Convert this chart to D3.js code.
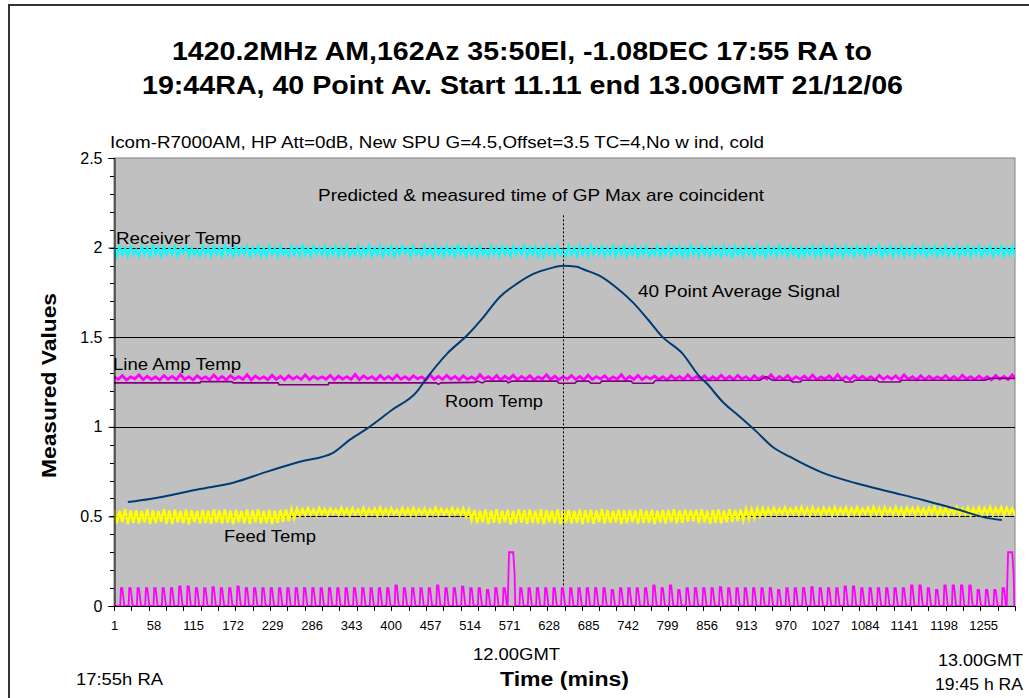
<!DOCTYPE html>
<html><head><meta charset="utf-8">
<script src="https://cdn.jsdelivr.net/npm/d3@7"></script>
<style>body{margin:0;background:#fff;} svg{display:block;} text{font-family:"Liberation Sans",Arial,sans-serif;fill:#000;}</style>
</head><body><svg id="c" width="1029" height="698"></svg>
<script>
// ---------------- DATA ----------------
const xTickLabels = [1,58,115,172,229,286,343,400,457,514,571,628,685,742,799,856,913,970,1027,1084,1141,1198,1255];
const yTickLabels = [0,0.5,1,1.5,2,2.5];
const sampleCount = 1301;
const sampleStep = 4;      // receiver / feed samples every 4 points
const lineAmpStep = 6;     // line amp samples every 6 points

// 40 point average signal
const signalCats = [21,53,125,173,222,269,317,342,366,402,438,450,482,511,531,558,583,606,630,649,669,678,702,727,750,772,792,821,846,856,879,904,928,951,976,1023,1072,1120,1168,1217,1264,1282];
const signalValues = [0.58,0.597,0.653,0.688,0.75,0.805,0.855,0.93,0.99,1.094,1.196,1.26,1.41,1.512,1.598,1.726,1.80,1.853,1.884,1.899,1.893,1.879,1.842,1.773,1.693,1.596,1.503,1.41,1.28,1.243,1.14,1.056,0.973,0.889,0.833,0.744,0.685,0.638,0.592,0.54,0.489,0.48];

// Receiver Temp (cyan)
const receiverTemp = [
2.00,1.95,2.01,1.96,2.00,1.95,2.01,1.96,1.99,1.95,
2.01,1.96,2.00,1.95,2.02,1.96,2.00,1.95,2.01,1.96,
2.00,1.96,2.01,1.95,2.00,1.97,2.01,1.95,2.00,1.96,
1.99,1.95,2.01,1.96,2.00,1.95,2.01,1.96,2.00,1.95,
2.02,1.96,2.00,1.95,2.01,1.96,2.00,1.96,2.01,1.95,
2.00,1.96,2.01,1.95,2.00,1.95,2.01,1.96,2.00,1.95,
2.01,1.96,1.99,1.95,2.01,1.96,2.00,1.95,2.02,1.96,
2.00,1.95,2.01,1.96,2.00,1.96,2.01,1.95,2.00,1.96,
2.01,1.95,2.00,1.96,2.01,1.95,1.99,1.96,2.01,1.95,
2.00,1.96,2.02,1.95,2.00,1.96,2.01,1.95,2.00,1.96,
2.01,1.95,2.00,1.96,2.01,1.97,2.00,1.95,2.01,1.96,
1.99,1.95,2.01,1.96,2.00,1.95,2.01,1.96,2.00,1.95,
2.01,1.96,2.00,1.95,2.02,1.96,2.00,1.95,2.01,1.96,
2.00,1.95,2.01,1.96,1.99,1.95,2.01,1.96,2.00,1.95,
2.01,1.96,2.00,1.95,2.01,1.96,2.00,1.96,2.02,1.95,
2.00,1.96,2.01,1.95,2.00,1.95,2.01,1.96,2.00,1.95,
2.01,1.96,1.99,1.95,2.01,1.96,2.00,1.95,2.01,1.96,
2.00,1.95,2.02,1.96,2.00,1.96,2.01,1.95,2.00,1.96,
2.01,1.95,2.00,1.96,2.01,1.95,2.00,1.96,2.01,1.95,
2.00,1.96,2.01,1.95,1.99,1.96,2.01,1.95,2.00,1.96,
2.01,1.95,2.00,1.96,2.01,1.95,2.00,1.95,2.02,1.96,
2.00,1.95,2.01,1.96,2.00,1.95,2.01,1.96,2.00,1.95,
2.01,1.96,2.00,1.94,2.01,1.96,2.00,1.95,2.01,1.96,
2.00,1.95,2.01,1.96,2.00,1.94,2.01,1.96,2.00,1.95,
2.02,1.96,2.00,1.95,2.01,1.96,2.00,1.94,2.01,1.95,
2.00,1.96,2.01,1.95,2.00,1.95,2.01,1.96,2.00,1.94,
2.01,1.96,2.00,1.95,2.01,1.96,2.00,1.95,2.01,1.96,
2.00,1.95,2.01,1.96,2.00,1.96,2.02,1.95,2.00,1.96,
2.01,1.95,2.00,1.96,2.01,1.95,2.00,1.96,2.01,1.95,
2.00,1.96,2.01,1.95,2.00,1.96,2.01,1.95,2.00,1.96,
2.01,1.95,2.00,1.96,2.01,1.95,2.00,1.96,2.01,1.95,
2.00,1.96,2.01,1.95,2.00,1.96,2.01,1.95,2.00,1.96,
2.01,1.95,2.00,1.96,2.01,1.95,2.00,1.96,2.01,1.95];

// Line Amp Temp (magenta)
const lineAmpTemp = [
1.28,1.265,1.285,1.262,1.279,1.268,1.29,1.263,1.282,1.265,
1.278,1.262,1.286,1.266,1.281,1.263,1.292,1.265,1.28,1.262,
1.284,1.267,1.279,1.263,1.289,1.265,1.281,1.262,1.286,1.266,
1.28,1.264,1.291,1.262,1.283,1.267,1.279,1.263,1.288,1.265,
1.282,1.262,1.285,1.266,1.28,1.264,1.29,1.263,1.281,1.267,
1.279,1.265,1.287,1.262,1.283,1.266,1.28,1.264,1.292,1.263,
1.284,1.267,1.28,1.262,1.286,1.265,1.281,1.263,1.289,1.266,
1.28,1.263,1.285,1.267,1.279,1.262,1.29,1.265,1.282,1.264,
1.287,1.266,1.281,1.262,1.284,1.265,1.279,1.263,1.291,1.267,
1.28,1.264,1.286,1.262,1.282,1.266,1.288,1.263,1.281,1.265,
1.285,1.262,1.279,1.267,1.29,1.264,1.283,1.263,1.28,1.266,
1.286,1.265,1.281,1.262,1.289,1.264,1.28,1.267,1.284,1.263,
1.279,1.266,1.291,1.262,1.282,1.265,1.287,1.263,1.28,1.267,
1.283,1.264,1.28,1.262,1.286,1.266,1.281,1.263,1.29,1.265,
1.28,1.267,1.284,1.262,1.279,1.264,1.288,1.265,1.282,1.263,
1.287,1.266,1.28,1.262,1.285,1.264,1.281,1.267,1.29,1.263,
1.281,1.265,1.286,1.262,1.28,1.266,1.283,1.264,1.289,1.263,
1.279,1.267,1.284,1.262,1.291,1.265,1.28,1.263,1.286,1.266,
1.282,1.264,1.28,1.262,1.287,1.265,1.281,1.267,1.284,1.263,
1.29,1.266,1.28,1.262,1.285,1.264,1.282,1.265,1.279,1.267,
1.286,1.263,1.281,1.262,1.288,1.266,1.28,1.264,1.283,1.265,
1.28,1.262,1.287,1.266,1.281,1.263,1.29,1.265,1.282,1.264];

// Room Temp (dark purple) – step line
const roomCats = [1,125,126,171,173,238,239,310,311,466,469,473,522,526,532,538,567,570,575,640,643,666,669,686,689,702,705,747,750,779,782,933,942,951,977,980,991,994,1053,1056,1067,1070,1102,1105,1135,1138,1258,1265,1301];
const roomValues = [1.245,1.245,1.252,1.252,1.245,1.245,1.235,1.235,1.245,1.245,1.237,1.245,1.248,1.255,1.245,1.255,1.255,1.245,1.255,1.255,1.243,1.243,1.255,1.255,1.243,1.243,1.255,1.255,1.243,1.243,1.258,1.26,1.28,1.26,1.26,1.25,1.25,1.26,1.26,1.25,1.25,1.26,1.26,1.25,1.25,1.26,1.26,1.27,1.27];

// Feed Temp (yellow)
const feedTemp = [
0.535,0.462,0.53,0.468,0.54,0.458,0.532,0.465,0.536,0.46,
0.53,0.466,0.538,0.457,0.534,0.463,0.53,0.469,0.54,0.461,
0.533,0.458,0.537,0.466,0.531,0.462,0.539,0.456,0.534,0.467,
0.53,0.46,0.536,0.464,0.532,0.459,0.54,0.466,0.533,0.461,
0.538,0.465,0.531,0.458,0.535,0.468,0.53,0.462,0.537,0.459,
0.534,0.466,0.539,0.46,0.532,0.463,0.536,0.457,0.531,0.465,
0.535,0.47,0.538,0.475,0.54,0.49,0.542,0.505,0.54,0.508,
0.545,0.51,0.538,0.507,0.546,0.512,0.54,0.506,0.543,0.514,
0.537,0.508,0.547,0.511,0.541,0.506,0.544,0.513,0.538,0.509,
0.546,0.507,0.54,0.512,0.543,0.505,0.548,0.51,0.539,0.508,
0.544,0.513,0.537,0.506,0.545,0.511,0.541,0.507,0.546,0.509,
0.54,0.512,0.543,0.505,0.538,0.51,0.547,0.508,0.542,0.513,
0.539,0.506,0.545,0.511,0.54,0.508,0.544,0.498,0.538,0.48,
0.536,0.462,0.531,0.467,0.538,0.458,0.533,0.465,0.54,0.46,
0.532,0.468,0.536,0.457,0.53,0.463,0.539,0.466,0.534,0.459,
0.537,0.464,0.531,0.461,0.54,0.456,0.535,0.467,0.532,0.462,
0.538,0.458,0.533,0.466,0.536,0.46,0.531,0.464,0.539,0.457,
0.534,0.465,0.537,0.459,0.532,0.468,0.54,0.461,0.535,0.463,
0.531,0.466,0.538,0.458,0.534,0.462,0.536,0.467,0.532,0.46,
0.539,0.463,0.533,0.465,0.537,0.457,0.531,0.466,0.535,0.461,
0.536,0.468,0.54,0.462,0.533,0.465,0.538,0.47,0.534,0.474,
0.537,0.462,0.539,0.466,0.532,0.459,0.536,0.464,0.538,0.461,
0.533,0.467,0.54,0.47,0.535,0.474,0.538,0.48,0.541,0.486,
0.54,0.492,0.543,0.5,0.545,0.505,0.542,0.508,0.547,0.51,
0.541,0.512,0.548,0.507,0.543,0.513,0.546,0.509,0.55,0.511,
0.544,0.506,0.549,0.512,0.542,0.508,0.547,0.514,0.545,0.507,
0.55,0.51,0.543,0.513,0.548,0.506,0.544,0.511,0.549,0.509,
0.542,0.514,0.547,0.508,0.551,0.512,0.545,0.507,0.548,0.513,
0.543,0.509,0.55,0.511,0.544,0.506,0.549,0.514,0.546,0.508,
0.548,0.512,0.542,0.509,0.547,0.513,0.551,0.507,0.544,0.511,
0.549,0.508,0.545,0.514,0.55,0.51,0.543,0.512,0.548,0.506,
0.544,0.511,0.548,0.509,0.546,0.513,0.552,0.508,0.545,0.512,
0.55,0.507,0.547,0.514,0.543,0.51,0.549,0.511,0.546,0.509];

// calibration pulses (magenta, bottom)
const pulseCats = [11,23,35,47,59,71,83,95,107,119,131,143,155,167,179,191,203,215,227,239,
251,263,275,287,299,311,323,335,347,359,371,383,395,407,419,431,443,455,467,479,
491,503,515,527,539,551,563,575,587,599,611,623,635,647,659,671,683,695,707,719,
731,743,755,767,779,791,803,815,827,839,851,863,875,887,899,911,923,935,947,959,
971,983,995,1007,1019,1031,1043,1055,1067,1079,1091,1103,1115,1127,1139,1151,1163,1175,1187,1199,
1211,1223,1235,1247,1259,1271,1283,1295];
const pulseHeights = [0.1,0.1,0.1,0.1,0.1,0.1,0.1,0.11,0.11,0.1,
0.1,0.105,0.1,0.1,0.11,0.1,0.1,0.1,0.1,0.1,
0.1,0.1,0.1,0.1,0.1,0.1,0.1,0.1,0.1,0.1,
0.1,0.1,0.1,0.115,0.1,0.1,0.1,0.1,0.115,0.1,
0.1,0.108,0.1,0.1,0.09,0.1,0.1,0.3,0.1,0.1,
0.1,0.1,0.1,0.1,0.1,0.1,0.1,0.1,0.1,0.09,
0.1,0.1,0.1,0.1,0.115,0.1,0.115,0.09,0.1,0.1,
0.1,0.1,0.105,0.1,0.1,0.1,0.1,0.1,0.1,0.09,
0.1,0.1,0.1,0.105,0.1,0.1,0.1,0.11,0.11,0.1,
0.1,0.1,0.1,0.1,0.1,0.115,0.115,0.1,0.09,0.115,
0.115,0.115,0.115,0.09,0.09,0.09,0.1,0.3];

const gpMaxCat = 649;

// ---------------- DRAW ----------------
const svg = d3.select("#c");
const L = 114, R = 1015, T = 158, B = 606;
const x = d3.scaleLinear().domain([1, sampleCount]).range([L, R]);
const y = d3.scaleLinear().domain([0, 2.5]).range([B, T]);

// outer chart border
svg.append("rect").attr("x",9).attr("y",5).attr("width",1060).attr("height",720)
  .attr("fill","#fff").attr("stroke","#333").attr("stroke-width",2);

// plot area
svg.append("rect").attr("x",L).attr("y",T).attr("width",R-L).attr("height",B-T)
  .attr("fill","#c0c0c0").attr("stroke","#808080").attr("stroke-width",1);

svg.append("defs").append("clipPath").attr("id","clip")
  .append("rect").attr("x",L).attr("y",T-2).attr("width",R-L).attr("height",B-T+4);

// gridlines
svg.append("g").selectAll("line").data([0.5,1,1.5,2]).join("line")
  .attr("x1",L).attr("x2",R).attr("y1",d=>Math.round(y(d))+0.5).attr("y2",d=>Math.round(y(d))+0.5)
  .attr("stroke","#000").attr("stroke-width",1);

const plot = svg.append("g").attr("clip-path","url(#clip)");
const line = d3.line().x(d=>x(d[0])).y(d=>y(d[1]));
const smooth = d3.line().x(d=>x(d[0])).y(d=>y(d[1])).curve(d3.curveMonotoneX);

const recPts = receiverTemp.map((v,i)=>[1+i*sampleStep, v]);
const ampPts = lineAmpTemp.map((v,i)=>[1+i*lineAmpStep, v]);
const roomPts = roomCats.map((c,i)=>[c, roomValues[i]]);
const feedPts = feedTemp.map((v,i)=>[1+i*sampleStep, v]);
const sigPts = signalCats.map((c,i)=>[c, signalValues[i]]);

// pulse table built from pulse arrays
const pulsePts = [[1,0]];
pulseCats.forEach((p,i)=>{
  const h = pulseHeights[i];
  if (h >= 0.2) {
    pulsePts.push([p-6,0],[p-4,h],[p+2,h],[p+4,h*0.6],[p+5,0]);
  } else {
    pulsePts.push([p-1,0],[p,h],[p+2,h],[p+5,0]);
  }
});
pulsePts.push([sampleCount,0]);

plot.append("path").attr("d",line(recPts)).attr("fill","none").attr("stroke","#00ffff").attr("stroke-width",2);
plot.append("path").attr("d",line(ampPts)).attr("fill","none").attr("stroke","#ff00ff").attr("stroke-width",2.8);
plot.append("path").attr("d",line(roomPts)).attr("fill","none").attr("stroke","#800080").attr("stroke-width",1.6);
plot.append("path").attr("d",line(feedPts)).attr("fill","none").attr("stroke","#ffff00").attr("stroke-width",2.6);
plot.append("path").attr("d",smooth(sigPts)).attr("fill","none").attr("stroke","#003c74").attr("stroke-width",2);
plot.append("path").attr("d",line(pulsePts)).attr("fill","none").attr("stroke","#ff00ff").attr("stroke-width",1.8);

// dotted GP max line
svg.append("line").attr("x1",Math.round(x(gpMaxCat))+0.5).attr("x2",Math.round(x(gpMaxCat))+0.5)
  .attr("y1",y(2.18)).attr("y2",y(0.11))
  .attr("stroke","#000").attr("stroke-width",1).attr("stroke-dasharray","2,2");

// axes
const yAxis = d3.axisLeft(y).tickValues(yTickLabels).tickFormat(d=>String(d)).tickSize(6).tickPadding(6);
const gy = svg.append("g").attr("transform",`translate(${L+0.5},0)`).call(yAxis);
gy.select(".domain").attr("stroke","#000");
gy.selectAll("text").attr("font-size",16).attr("font-family","Liberation Sans, Arial, sans-serif").attr("fill","#000");
svg.append("g").selectAll("line").data(d3.range(0,26).map(i=>i/10)).join("line")
  .attr("x1",L-4).attr("x2",L).attr("y1",d=>Math.round(y(d))+0.5).attr("y2",d=>Math.round(y(d))+0.5)
  .attr("stroke","#000");

const xAxis = d3.axisBottom(x).tickValues(xTickLabels).tickFormat(d=>String(d)).tickSize(0).tickPadding(14);
const gx = svg.append("g").attr("transform",`translate(0,${B+0.5})`).call(xAxis);
gx.select(".domain").remove();
gx.selectAll("text").attr("font-size",13).attr("font-family","Liberation Sans, Arial, sans-serif").attr("fill","#000");
svg.append("line").attr("x1",L).attr("x2",R).attr("y1",B+0.5).attr("y2",B+0.5).attr("stroke","#000");
svg.append("g").selectAll("line").data(d3.range(1, sampleCount+1, 25)).join("line")
  .attr("x1",d=>Math.round(x(d))+0.5).attr("x2",d=>Math.round(x(d))+0.5)
  .attr("y1",B).attr("y2",B+5).attr("stroke","#000");

// texts
function txt(str, xx, yy, size, opts={}) {
  const t = svg.append("text").attr("x",xx).attr("y",yy).attr("font-size",size)
    .attr("text-anchor",opts.anchor||"start").attr("font-weight",opts.bold?"bold":"normal").text(str);
  if (opts.family) t.attr("font-family",opts.family);
  if (opts.len) t.attr("textLength",opts.len).attr("lengthAdjust","spacingAndGlyphs");
  if (opts.rotate) t.attr("transform",`rotate(-90,${xx},${yy})`);
  return t;
}
const narrow = "'Liberation Sans Narrow','Arial Narrow','Liberation Sans',Arial,sans-serif";
txt("1420.2MHz AM,162Az 35:50El, -1.08DEC 17:55 RA to", 172, 60, 26, {bold:true, len:700, family:narrow});
txt("19:44RA, 40 Point Av.  Start 11.11 end 13.00GMT 21/12/06", 142, 94, 26, {bold:true, len:761, family:narrow});
txt("Icom-R7000AM, HP Att=0dB, New  SPU G=4.5,Offset=3.5 TC=4,No w ind, cold", 110, 148, 17, {len:654});
txt("Predicted & measured time of GP Max are coincident", 318, 201, 17, {len:446});
txt("Receiver Temp", 116, 244, 17, {len:125});
txt("40 Point Average Signal", 638, 297, 17, {len:202});
txt("Line Amp Temp", 113, 370, 17, {len:128});
txt("Room Temp", 445, 407, 17, {len:98});
txt("Feed Temp", 224, 542, 17, {len:92});
txt("17:55h RA", 76, 685, 17, {len:87});
txt("12.00GMT", 473, 660, 17, {len:87});
txt("Time (mins)", 500, 686, 20, {bold:true, len:129});
txt("13.00GMT", 938, 666, 17, {len:85});
txt("19:45 h RA", 935, 690, 17, {len:88});
txt("Measured Values", 56, 478, 20, {bold:true, len:185, rotate:true});
</script></body></html>
